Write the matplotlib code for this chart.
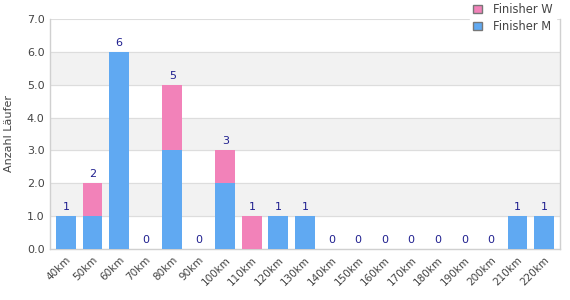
import matplotlib
matplotlib.use("Agg")
import matplotlib.pyplot as plt
from matplotlib.patches import Patch

categories = ["40km", "50km", "60km", "70km", "80km", "90km", "100km", "110km", "120km", "130km",
              "140km", "150km", "160km", "170km", "180km", "190km", "200km", "210km", "220km"]
finisher_m = [1, 1, 6, 0, 3, 0, 2, 0, 1, 1, 0, 0, 0, 0, 0, 0, 0, 1, 1]
finisher_w = [0, 1, 0, 0, 2, 0, 1, 1, 0, 0, 0, 0, 0, 0, 0, 0, 0, 0, 0]

blue = "#60a9f2"
pink = "#f282b9"
label_col = "#1f1f8f"
text_col = "#444444"
grid_col = "#dddddd"

fig = plt.figure(figsize=(5.7, 3.0), dpi=100)
ax = fig.add_axes([50/570, 51/300, 510/570, 230/300])

x = list(range(len(categories)))
ax.bar(x, finisher_m, width=0.75, color=blue, zorder=3)
ax.bar(x, finisher_w, width=0.75, bottom=finisher_m, color=pink, zorder=3)

for i in x:
    tot = finisher_m[i] + finisher_w[i]
    ax.text(i, tot + 0.12, str(tot), ha="center", va="bottom", color=label_col, fontsize=8, zorder=4)

ax.set_xlim(-0.6, len(categories) - 0.4)
ax.set_ylim(0, 7)
yt = [0, 1, 2, 3, 4, 5, 6, 7]
ax.set_yticks(yt)
ax.set_yticklabels([f"{v:.1f}" for v in yt], color=text_col, fontsize=8)
for lo in (1, 3, 5):
    ax.axhspan(lo, lo + 1, color="#f2f2f2", zorder=0)
for v in yt:
    ax.axhline(v, color=grid_col, lw=0.8, zorder=1)

ax.set_xticks(x)
ax.set_xticklabels(categories, rotation=45, ha="right", rotation_mode="anchor", color=text_col, fontsize=7.5)
ax.tick_params(axis="both", length=0, pad=4)
ax.set_ylabel("Anzahl Läufer", color=text_col, fontsize=8, labelpad=9)

ax.spines["top"].set_visible(False)
for s in ["left", "right", "bottom"]:
    ax.spines[s].set_color("#d0d0d0")
    ax.spines[s].set_linewidth(1)

handles = [Patch(facecolor=pink, edgecolor="#777777", label="Finisher W"),
           Patch(facecolor=blue, edgecolor="#777777", label="Finisher M")]
leg = fig.legend(handles=handles, loc="upper right", bbox_to_anchor=(562/570, 1.02),
                 frameon=True, fontsize=8.3, handlelength=0.75, handleheight=0.75,
                 handletextpad=1.0, labelspacing=0.35, borderpad=0.3)
leg.get_frame().set_edgecolor("white")
leg.get_frame().set_facecolor("white")
leg.get_frame().set_alpha(1)
leg.set_zorder(10)
for t in leg.get_texts():
    t.set_color(text_col)

fig.savefig("out.png", dpi=100)
